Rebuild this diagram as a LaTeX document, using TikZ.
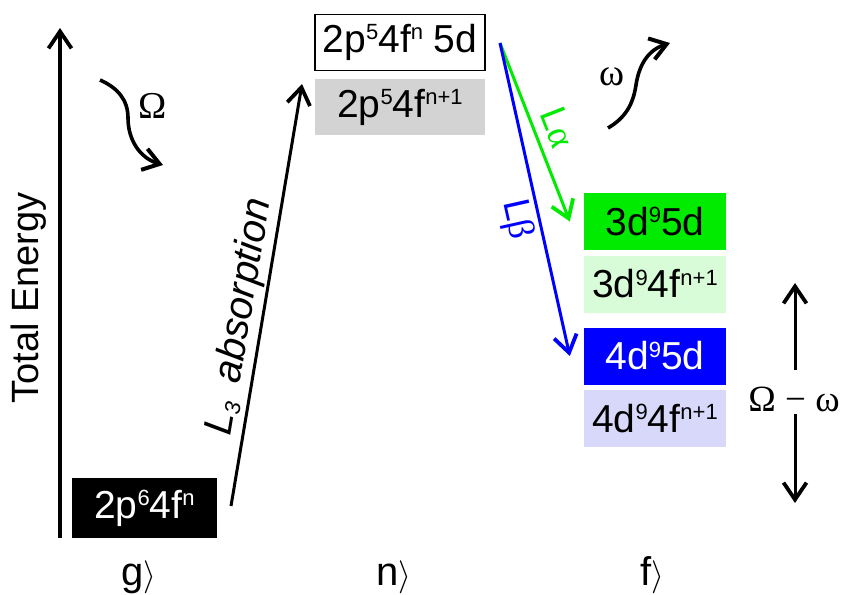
\documentclass[tikz,border=0pt]{standalone}
\usepackage{fontspec}
\usepackage{graphicx}
\setmainfont{Liberation Sans}
\newfontfamily\grk{Liberation Serif}
\usetikzlibrary{arrows.meta,calc}
\newcommand\sups[1]{\raisebox{0.33em}{\fontsize{22}{22}\selectfont #1}}
\newcommand\subs[1]{\raisebox{-0.12em}{\fontsize{22}{22}\selectfont #1}}
\newcommand\ket[1]{#1{\fontsize{10}{10}\selectfont\scalebox{3.3}{$\rangle$}}}
\definecolor{brgreen}{RGB}{0,235,0}
\definecolor{ltgreen}{RGB}{216,252,216}
\definecolor{ltblue}{RGB}{216,216,250}
\definecolor{ltgray}{RGB}{211,211,211}
\begin{document}
\begin{tikzpicture}[x=1pt,y=-1pt,
  lvl/.style={inner sep=0pt, minimum width=142, minimum height=57, font=\fontsize{39}{40}\selectfont},
  arr/.style={line width=3pt, -{Straight Barb[length=17pt,width=23pt,line width=3.8pt]}},
  curv/.style={line width=3.6pt, -{Straight Barb[length=16pt,width=22pt,line width=4pt]}},
  lab/.style={font=\fontsize{38}{40}\selectfont},
  glab/.style={font=\grk\fontsize{38}{40}\selectfont},
  ketlab/.style={anchor=base, font=\fontsize{40}{40}\selectfont}]
\useasboundingbox (0,0) rectangle (845,594);

% energy axis
\coordinate (ax0) at (60,538);
\coordinate (ax1) at (60,28);
\draw[arr, line width=3.2pt] (ax0) -- (ax1);
\node[lab, rotate=90] (te) at (29,298) {Total Energy};

% incoming photon
\draw[curv] (100,80) .. controls (118,88) and (128,100) .. (128,118)
            .. controls (128,140) and (140,158) .. (163,165);
\node[glab, anchor=base] (om) at (153,118) {Ω};

% levels
\node[lvl, fill=black, text=white, minimum width=145, minimum height=60] (g) at (144.5,508) {2p\sups{6}4f\sups{n}};
\node[lvl, draw=black, line width=1.6pt, minimum width=170, minimum height=56] (n1) at (400,42.5) {2p\sups{5}4f\sups{n} 5d};
\node[lvl, fill=ltgray, minimum width=170, minimum height=56] (n2) at (400,107) {2p\sups{5}4f\sups{n+1}};
\node[lvl, fill=brgreen] (f1) at (655,221.5) {3d\sups{9}5d};
\node[lvl, fill=ltgreen] (f2) at (655,284) {3d\sups{9}4f\sups{n+1}};
\node[lvl, fill=blue, text=white] (f3) at (655,356) {4d\sups{9}5d};
\node[lvl, fill=ltblue] (f4) at (655,418.5) {4d\sups{9}4f\sups{n+1}};

% absorption
\coordinate (a0) at (231,506);
\coordinate (a1) at (302,84);
\draw[arr] (a0) -- node[sloped, above, pos=0.44, inner sep=2pt, font=\itshape\fontsize{40}{40}\selectfont] (abs) {L\subs{3}\hspace{0.45em}absorption} (a1);

% emission
\coordinate (e0) at (500,43);
\draw[arr, brgreen] (e0) -- node[sloped, above, pos=0.52, inner sep=9pt, font=\fontsize{37}{38}\selectfont] (la) {L{\grk α}} ($(f1.west)+(-14,0)$);
\draw[arr, blue] (e0) -- node[sloped, below, pos=0.55, inner sep=4pt, font=\fontsize{37}{38}\selectfont] (lb) {L{\grk β}} ($(f3.west)+(-14,0)$);

% outgoing photon
\draw[curv] (608,128) .. controls (625,118) and (633,105) .. (636,85)
            .. controls (639,65) and (648,50) .. (670,43);
\node[glab, anchor=base] (w) at (612,85) {ω};

% energy transfer
\node[glab, anchor=base, font=\grk\fontsize{37}{40}\selectfont] (ow) at (794,411) {Ω − ω};
\coordinate (u0) at (795,370);
\coordinate (u1) at (795,283);
\coordinate (d0) at (795,414);
\coordinate (d1) at (795,503);
\draw[arr] (u0) -- (u1);
\draw[arr] (d0) -- (d1);

% state labels
\node[ketlab] (kg) at (139,585) {\ket{g}};
\node[ketlab] (kn) at (394,585) {\ket{n}};
\node[ketlab] (kf) at (652,585) {\ket{f}};
\end{tikzpicture}
\end{document}
